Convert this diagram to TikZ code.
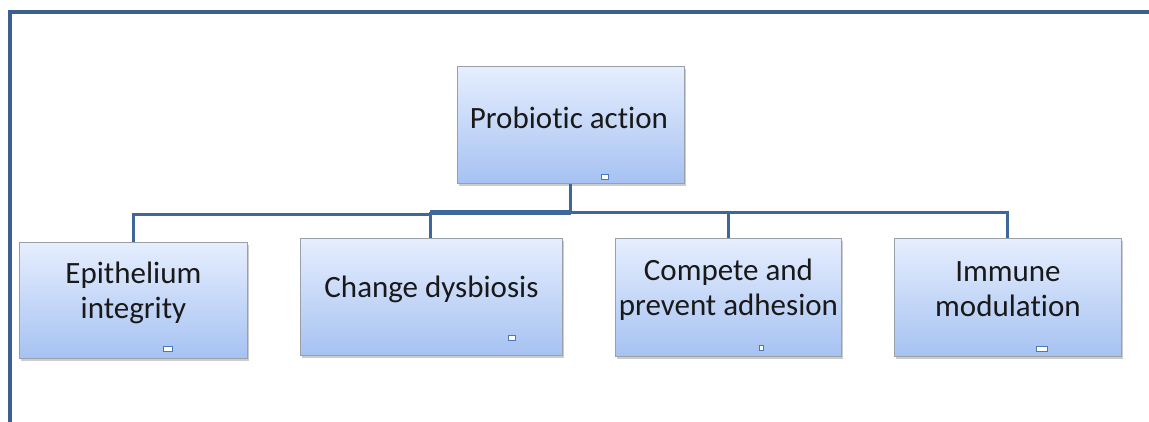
\documentclass[tikz,border=0pt]{standalone}
\usepackage{fontspec}
\setmainfont{Carlito}[Ligatures={NoCommon}]
\usetikzlibrary{shadows,calc}
\definecolor{framec}{HTML}{3D5F8F}
\definecolor{connc}{HTML}{3F6799}
\definecolor{boxtop}{HTML}{E6EEFE}
\definecolor{boxbot}{HTML}{A6C2F2}
\definecolor{boxline}{HTML}{9AA0A8}
\definecolor{markc}{HTML}{4A78C0}
\tikzset{
  box/.style={draw=boxline, line width=0.9pt, top color=boxtop, bottom color=boxbot,
    inner sep=0pt, anchor=north west,
    drop shadow={shadow xshift=2pt, shadow yshift=-3pt, opacity=0.2, fill=black}},
  lbl/.style={inner sep=0pt, align=center, font=\fontsize{31}{35}\selectfont, text=black!90},
  conn/.style={draw=connc, line width=3pt},
  frameline/.style={draw=framec, line width=3.2pt},
  marker/.style={draw=markc, fill=white, line width=0.8pt}
}
\begin{document}
\begin{tikzpicture}[x=1pt, y=-1pt]
\useasboundingbox (0,0) rectangle (1149,421);
\draw[frameline] (1152,12) -- (10,12) -- (10,424);
% boxes
\node[box, minimum width=227pt, minimum height=117pt] (root) at (457,66) {};
\node[box, minimum width=228pt, minimum height=116pt] (c1) at (19,242) {};
\node[box, minimum width=262pt, minimum height=117pt] (c2) at (300,238) {};
\node[box, minimum width=226pt, minimum height=118pt] (c3) at (615,238) {};
\node[box, minimum width=227pt, minimum height=118pt] (c4) at (894,238) {};
% labels
\node[lbl] (troot) at ($(root.center)+(-2,-7)$) {Probiotic action};
\node[lbl] (t1) at ($(c1.center)+(0,-8)$) {Epithelium\\integrity};
\node[lbl] (t2) at ($(c2.center)+(0,-8)$) {Change dysbiosis};
\node[lbl] (t3) at ($(c3.center)+(0,-8)$) {Compete and\\prevent adhesion};
\node[lbl] (t4) at ($(c4.center)+(0,-8)$) {Immune\\modulation};
% markers
\draw[marker] (601,174) rectangle (608,179);
\draw[marker] (163,346) rectangle (172,351);
\draw[marker] (508,335) rectangle (515,340);
\draw[marker] (759,345) rectangle (763,350);
\draw[marker] (1036,346) rectangle (1047,351);
% connectors
\coordinate (hub) at (root.south |- 0,212);
\coordinate (c2top) at (430,238);
\draw[conn] (root.south) -- (hub) -| (c3.north);
\draw[conn] (hub) -| (c4.north);
\draw[conn, line width=5pt] (hub) -- (c2top |- hub);
\draw[conn] (c2top |- hub) -- (c2top);
\draw[conn] (c2top |- 0,214) -| (c1.north);
\end{tikzpicture}
\end{document}
